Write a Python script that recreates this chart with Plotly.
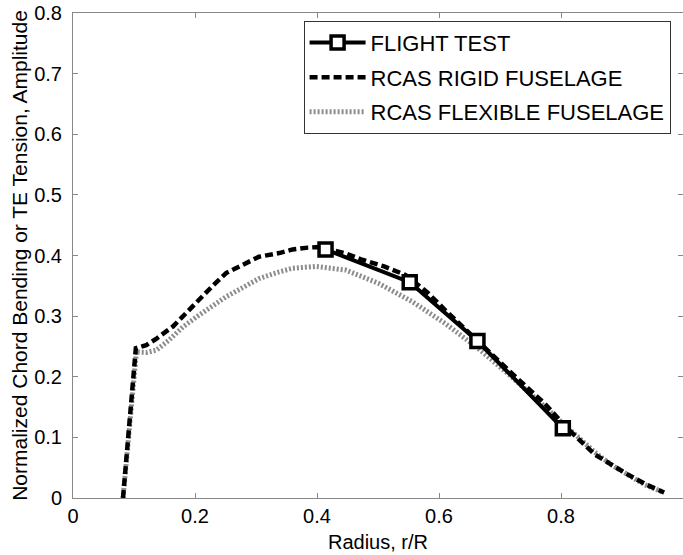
import plotly.graph_objects as go

# Flight test data
ft_x = [0.414, 0.552, 0.663, 0.803]
ft_y = [0.410, 0.356, 0.259, 0.115]

# RCAS rigid fuselage
rig_x = [0.082, 0.103, 0.120, 0.137, 0.164, 0.185, 0.207, 0.230, 0.251, 0.280, 0.305, 0.338, 0.360,
         0.385, 0.403, 0.414, 0.445, 0.474, 0.510, 0.545, 0.580, 0.610, 0.664, 0.719, 0.773, 0.811,
         0.855, 0.885, 0.909, 0.940, 0.969]
rig_y = [0.0, 0.247, 0.252, 0.263, 0.283, 0.305, 0.327, 0.351, 0.371, 0.386, 0.398, 0.404, 0.410,
         0.413, 0.414, 0.412, 0.404, 0.393, 0.382, 0.368, 0.340, 0.310, 0.258, 0.206, 0.156, 0.114,
         0.072, 0.053, 0.039, 0.022, 0.009]

# RCAS flexible fuselage
flx_x = [0.082, 0.104, 0.120, 0.137, 0.158, 0.180, 0.207, 0.230, 0.251, 0.280, 0.305, 0.338, 0.360,
         0.398, 0.447, 0.501, 0.556, 0.610, 0.664, 0.719, 0.773, 0.828, 0.855, 0.882, 0.910,
         0.937, 0.969]
flx_y = [0.0, 0.241, 0.240, 0.244, 0.261, 0.282, 0.302, 0.318, 0.332, 0.348, 0.362, 0.373, 0.379,
         0.382, 0.376, 0.354, 0.324, 0.288, 0.247, 0.200, 0.151, 0.101, 0.076, 0.055, 0.038,
         0.022, 0.009]

x_ticks = [0, 0.2, 0.4, 0.6, 0.8]
x_ticklabels = ["0", "0.2", "0.4", "0.6", "0.8"]
y_ticks = [0, 0.1, 0.2, 0.3, 0.4, 0.5, 0.6, 0.7, 0.8]
y_ticklabels = ["0", "0.1", "0.2", "0.3", "0.4", "0.5", "0.6", "0.7", "0.8"]

FONT = "Liberation Sans, Arial, sans-serif"

fig = go.Figure()
fig.add_trace(go.Scatter(
    x=flx_x, y=flx_y, mode="lines", name="RCAS FLEXIBLE FUSELAGE",
    legendrank=3, legendgroup="c",
    line=dict(color="#8c8c8c", width=5, dash="2px,2px"),
))
fig.add_trace(go.Scatter(
    x=rig_x, y=rig_y, mode="lines", name="RCAS RIGID FUSELAGE",
    legendrank=2, legendgroup="b",
    line=dict(color="black", width=4.5, dash="8px,4px"),
))
fig.add_trace(go.Scatter(
    x=ft_x, y=ft_y, mode="lines+markers", name="FLIGHT TEST",
    legendrank=1, legendgroup="a",
    line=dict(color="black", width=4),
    marker=dict(symbol="square", size=13, color="white", line=dict(color="black", width=3.5)),
))

axis_common = dict(
    showgrid=False, zeroline=False, showline=True, linecolor="#888888", linewidth=1,
    mirror="ticks", ticks="inside", ticklen=5, tickcolor="#888888",
    tickfont=dict(family=FONT, size=20, color="black"),
)

fig.update_layout(
    width=683, height=555,
    margin=dict(l=73, r=0, t=13, b=57),
    paper_bgcolor="white", plot_bgcolor="white",
    font=dict(family=FONT, color="black"),
    showlegend=True,
    legend=dict(
        x=0.378, y=0.984, xanchor="left", yanchor="top",
        bgcolor="white", bordercolor="#333333", borderwidth=1,
        font=dict(family=FONT, size=22, color="black"),
        itemwidth=56, tracegroupgap=3, traceorder="grouped",
    ),
    xaxis=dict(
        range=[0, 1.0], tickvals=x_ticks, ticktext=x_ticklabels,
        title=dict(text="Radius, r/R", font=dict(family=FONT, size=20), standoff=8),
        **axis_common,
    ),
    yaxis=dict(
        range=[0, 0.8], tickvals=y_ticks, ticktext=y_ticklabels,
        title=dict(text="Normalized Chord Bending or TE Tension, Amplitude",
                   font=dict(family=FONT, size=21), standoff=0),
        ticklabelstandoff=6,
        **axis_common,
    ),
)

fig.write_html("out.html")
